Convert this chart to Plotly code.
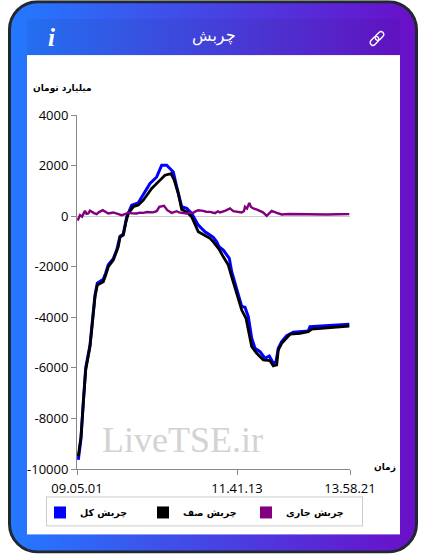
import base64
import plotly.graph_objects as go

# sample index along the (non-linear) time axis, value in billion toman
total_x = [1.3,4,6.3,8.7,13,15.3,18,20.3,26.3,28.7,31.3,36.3,39.7,43,46.3,49.7,54.7,61.3,66.3,73,79.7,84.7,89.7,96.3,99.7,104.7,109.7,114.7,121.3,128,133,136.3,139.7,142,146.3,152.3,154.7,159.7,164.7,168,171.3,174.7,178,183,188,192.3,196.3,199,201.3,204.7,209.7,216.3,231.3,233,249.7,272.3]
total_y = [-9640,-8800,-7350,-6000,-5100,-4050,-3120,-2650,-2500,-2250,-1920,-1680,-1340,-800,-700,-30,435,525,830,1290,1550,2015,2015,1750,1160,370,305,105,-355,-620,-750,-840,-1015,-1210,-1345,-1670,-2200,-2860,-3570,-3605,-3975,-4830,-5225,-5360,-5620,-5530,-5820,-5755,-5225,-4965,-4725,-4595,-4540,-4375,-4335,-4280]

queue_x = [1.3,4,6.3,8.7,13,15.3,18,20.3,26.3,28.7,31.3,36.3,39.7,41.3,43,46.3,49,51.3,56.3,61.3,66.3,74.7,81.3,88,94,97.3,101.3,104.7,109.7,114.7,121.3,128,133,136.3,139.7,142,146.3,151.3,154.7,159.7,164.7,169,171.3,174.7,179.7,186.3,193,196.3,199.7,201.3,204.7,209,213,223,231.3,234.7,249.7,272.3]
queue_y = [-9500,-8720,-7400,-6080,-5160,-4110,-3190,-2725,-2595,-2330,-2000,-1740,-1410,-1210,-830,-750,-225,105,370,435,630,1095,1355,1620,1685,1420,895,265,170,-30,-620,-750,-880,-1015,-1210,-1300,-1610,-1935,-2400,-3055,-3715,-4040,-4500,-5160,-5425,-5690,-5715,-5925,-5885,-5290,-5030,-4830,-4670,-4635,-4570,-4465,-4410,-4345]

current_x = [0.7,1.3,3,5,8,9.5,11.3,13,14.7,17,19.7,22,25.7,28,31.3,36.3,40,44.7,48,51.3,55,59.7,63,66.3,70,73,76,79.7,82.3,87,90.3,94.7,97,99.7,102,104.7,109.7,113,116.3,118.5,121.3,126.3,129,133,138,141,143,148,153,156.3,160,164.7,167,168,170,172.3,174,176.3,180,183,186,189.7,192,194.7,199.7,204.7,212,219.7,226,233,241,249.7,260,272.3]
current_y = [-170,-130,40,-20,210,90,105,215,170,120,80,160,235,170,105,145,95,40,75,145,110,105,140,130,165,170,150,195,370,410,235,130,165,195,150,130,105,135,130,190,235,210,175,170,120,190,145,210,305,195,175,145,200,370,300,525,360,305,260,210,150,10,120,210,130,65,85,80,60,80,70,65,75,80]

y_ticks = [4000, 2000, 0, -2000, -4000, -6000, -8000, -10000]
y_labels = ["4000", "2000", "0", "-2000", "-4000", "-6000", "-8000", "-10000"]
x_ticks = [0, 160, 273]
x_labels = ["09.05.01", "11.41.13", "13.58.21"]

W, H = 427, 554
L, R, T, B = 77, 350, 115, 469.5
svg = f'''<svg xmlns="http://www.w3.org/2000/svg" width="{W}" height="{H}" viewBox="0 0 {W} {H}">
<defs><linearGradient id="g" x1="0" y1="0" x2="1" y2="0"><stop offset="0" stop-color="#2379ff"/><stop offset="1" stop-color="#6a0fc8"/></linearGradient></defs>
<rect x="9.5" y="1.5" width="407" height="551" rx="28" ry="28" fill="url(#g)" stroke="#222831" stroke-width="3"/>
<rect x="27" y="19" width="373" height="36" fill="#000" fill-opacity="0.05"/>
<rect x="27" y="55" width="373" height="480" fill="#fff"/>
<rect x="46.5" y="497.5" width="316" height="29" fill="#fff" stroke="#ccc" stroke-width="1"/>
<g transform="translate(377 38.3) rotate(-45)" fill="none" stroke="#fff" stroke-width="1.4">
<rect x="-8.5" y="-2.8" width="10" height="5.6" rx="2.8"/><rect x="-1.5" y="-2.8" width="10" height="5.6" rx="2.8"/></g>
</svg>'''
src = "data:image/svg+xml;base64," + base64.b64encode(svg.encode()).decode()

pw, ph = R - L, B - T
fig = go.Figure()
fig.add_trace(go.Scatter(x=total_x, y=total_y, mode="lines", line=dict(color="#0000ff", width=3), showlegend=False))
fig.add_trace(go.Scatter(x=queue_x, y=queue_y, mode="lines", line=dict(color="#000000", width=2.8), showlegend=False))
fig.add_trace(go.Scatter(x=current_x, y=current_y, mode="lines", line=dict(color="#800080", width=2.4), showlegend=False))
for name, color in [("چربش کل", "#0000ff"), ("چربش صف", "#000000"), ("چربش جاری", "#800080")]:
    fig.add_trace(go.Scatter(x=[None], y=[None], mode="markers", name=name,
                             marker=dict(symbol="square", size=9, color=color)))

def ann(text, x, y, size, color="#000", family="DejaVu Sans", weight="bold", style="normal"):
    return dict(text=text, xref="paper", yref="paper", x=(x - L) / pw, y=(B - y) / ph,
                xanchor="center", yanchor="middle", showarrow=False,
                font=dict(family=family, size=size, color=color, weight=weight, style=style))

fig.update_layout(
    width=W, height=H, margin=dict(l=L, r=W - R, t=T, b=H - B, pad=0, autoexpand=False),
    paper_bgcolor="#fff", plot_bgcolor="rgba(0,0,0,0)",
    font=dict(family="Open Sans", size=13, color="#000"),
    images=[dict(source=src, xref="paper", yref="paper", x=-L / pw, y=1 + T / ph,
                 sizex=W / pw, sizey=H / ph, xanchor="left", yanchor="top",
                 sizing="stretch", layer="below")],
    xaxis=dict(range=[0, 273], tickvals=x_ticks, ticktext=x_labels, ticks="outside", ticklen=5,
               tickcolor="#888", linecolor="#888", linewidth=1, showline=True, showgrid=False,
               zeroline=False, tickfont=dict(size=13), ticklabelstandoff=2),
    yaxis=dict(range=[-10000, 4000], tickvals=y_ticks, ticktext=y_labels, ticks="outside", ticklen=5,
               tickcolor="#888", linecolor="#888", linewidth=1, showline=True, showgrid=False,
               zeroline=True, zerolinecolor="#ccc", zerolinewidth=1, tickfont=dict(size=13)),
    legend=dict(orientation="h", x=(40 - L) / pw, y=(B - 498.5) / ph, xanchor="left", yanchor="top",
                borderwidth=0, bgcolor="rgba(0,0,0,0)", entrywidth=58, entrywidthmode="pixels",
                itemsizing="constant", traceorder="normal",
                font=dict(family="DejaVu Sans", size=9.5, weight="bold", color="#000")),
    annotations=[
        ann("چربش", 214, 36, 16, "#fff", weight="normal"),
        ann("i", 51, 37, 25, "#fff", "Liberation Serif", "bold", "italic"),
        ann("میلیارد تومان", 62, 88, 9),
        ann("زمان", 385, 468, 9),
        ann("LiveTSE.ir", 182, 440, 36, "#d3d3d3", "Liberation Serif", "normal"),
    ],
)
fig.write_html("out.html", config=dict(displayModeBar=False),
               post_script="document.body.style.margin='0';document.body.style.overflow='hidden';")
